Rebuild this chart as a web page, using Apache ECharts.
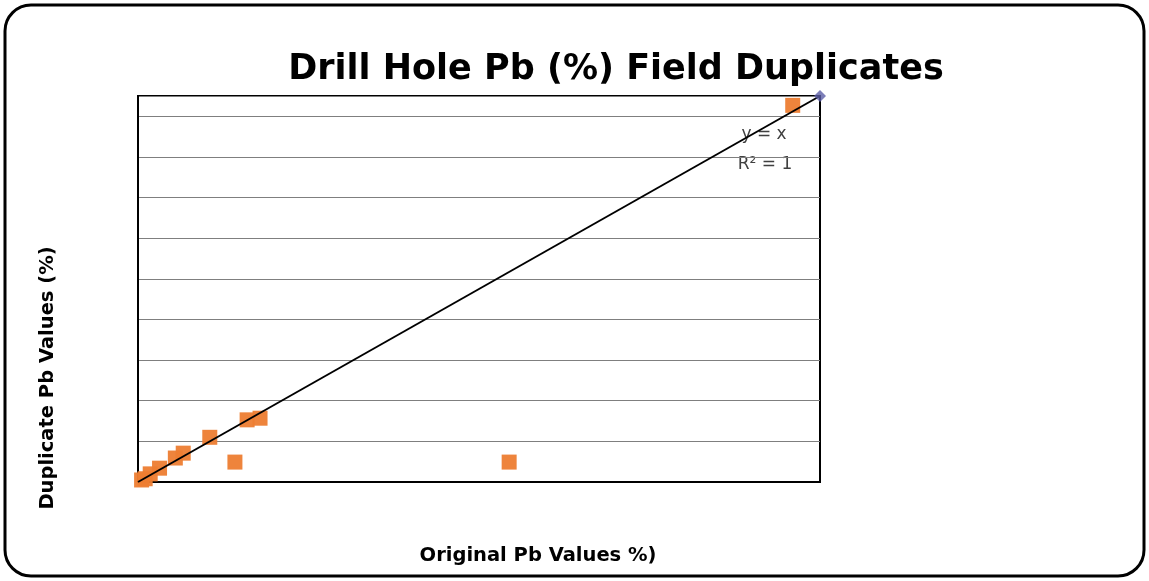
<!DOCTYPE html>
<html>
<head>
<meta charset="utf-8">
<script src="https://cdn.jsdelivr.net/npm/echarts@6/dist/echarts.min.js"></script>
<style>
  html, body { margin: 0; padding: 0; background: #fff; }
  #chart { width: 1149px; height: 581px; }
</style>
</head>
<body>
<div id="chart"></div>
<script>
// original vs duplicate Pb values (%)
var originalPb = [0.05, 0.1, 0.17, 0.3, 0.52, 0.63, 1.0, 1.35, 1.52, 1.7, 5.17, 9.12];
var duplicatePb = [0.05, 0.08, 0.2, 0.34, 0.59, 0.71, 1.1, 0.49, 1.53, 1.57, 0.49, 9.27];
var trendEnd = [9.5, 9.5];
var axisMax = 9.5;

var pts = originalPb.map(function (v, i) { return [v, duplicatePb[i]]; });

var labelFont = "DejaVu Sans";

var myChart = echarts.init(document.getElementById("chart"));
var option = {
  backgroundColor: "#fff",
  animation: false,
  title: {
    text: "Drill Hole Pb (%) Field Duplicates",
    left: 611,
    top: 47,
    textAlign: "center",
    textStyle: {
      fontFamily: labelFont,
      fontWeight: "bold",
      fontSize: 35,
      color: "#000",
    },
  },
  graphic: [
    {
      type: "rect",
      shape: { x: 5, y: 5, width: 1139, height: 571, r: 26 },
      style: { fill: "none", stroke: "#000", lineWidth: 3 },
      silent: true,
    },
    {
      type: "text",
      x: 538,
      y: 556,
      style: {
        text: "Original Pb Values %)",
        fontFamily: labelFont, fontWeight: "bold", fontSize: 19.5,
        fill: "#000", align: "center", verticalAlign: "middle",
      },
    },
    {
      type: "text",
      x: 48,
      y: 378,
      rotation: Math.PI / 2,
      style: {
        text: "Duplicate Pb Values (%)",
        fontFamily: labelFont, fontWeight: "bold", fontSize: 19.5,
        fill: "#000", align: "center", verticalAlign: "middle",
      },
    },
    {
      type: "text",
      x: 764,
      y: 135,
      style: {
        text: "y = x", fontFamily: labelFont, fontSize: 17, fill: "#404040",
        align: "center", verticalAlign: "middle",
      },
    },
    {
      type: "text",
      x: 765,
      y: 165,
      style: {
        text: "R² = 1", fontFamily: labelFont, fontSize: 17, fill: "#404040",
        align: "center", verticalAlign: "middle",
      },
    },
  ],
  grid: {
    left: 138,
    right: 329,
    top: 96,
    bottom: 99,
    show: true,
    borderColor: "#000",
    borderWidth: 2,
  },
  xAxis: {
    type: "value",
    min: 0,
    max: axisMax,
    interval: 1,
    axisLine: { show: true, lineStyle: { color: "#000", width: 2 } },
    axisTick: { show: false },
    axisLabel: { show: false },
    splitLine: { show: false },
  },
  yAxis: {
    type: "value",
    min: 0,
    max: axisMax,
    interval: 1,
    axisLine: { show: true, lineStyle: { color: "#000", width: 2 } },
    axisTick: { show: false },
    axisLabel: { show: false },
    splitLine: { show: true, lineStyle: { color: "#7f7f7f", width: 1 } },
  },
  series: [
    {
      name: "Duplicates",
      type: "scatter",
      symbol: "rect",
      symbolSize: 15,
      data: pts,
      itemStyle: { color: "#ED7D31", opacity: 0.95 },
      z: 3,
    },
    {
      name: "Trend",
      type: "line",
      data: [[0, 0], trendEnd],
      symbol: "none",
      lineStyle: { color: "#000", width: 2 },
      z: 4,
    },
    {
      name: "End",
      type: "scatter",
      symbol: "diamond",
      symbolSize: 12,
      data: [trendEnd],
      itemStyle: { color: "#5B5EA6" },
      z: 5,
    },
  ],
};
myChart.setOption(option);
</script>
</body>
</html>
